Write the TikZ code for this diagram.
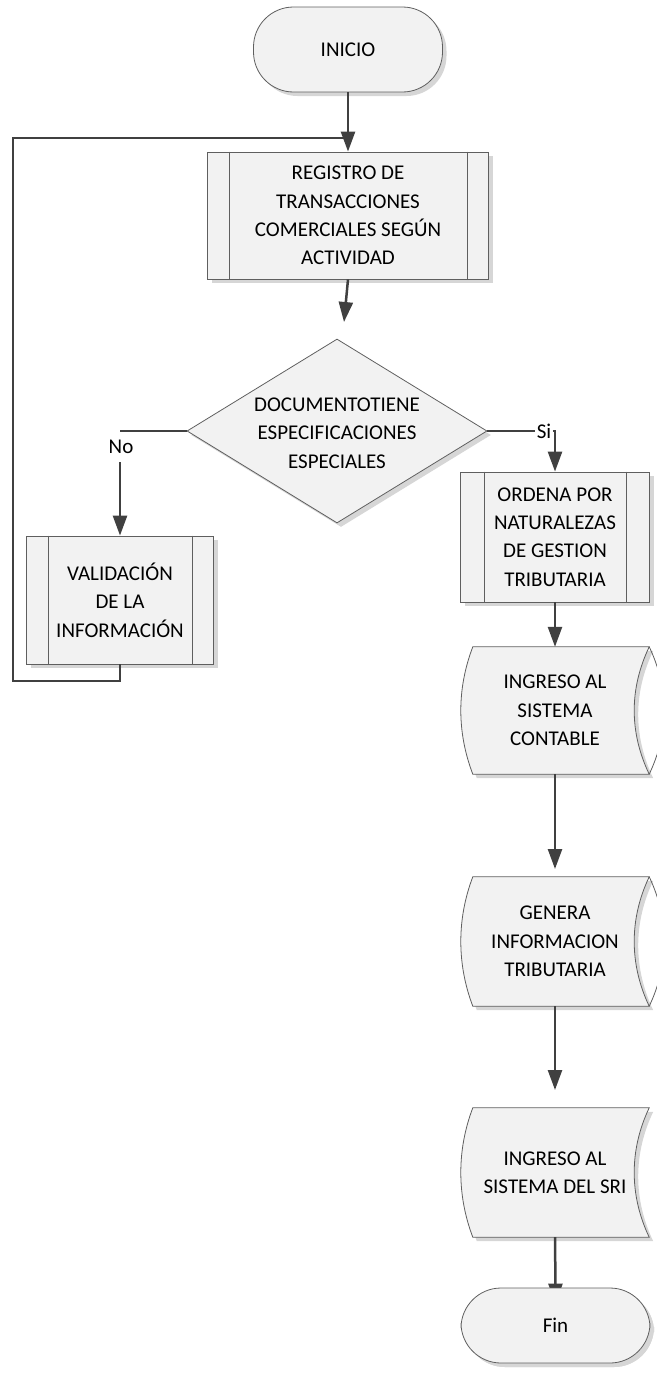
\documentclass[tikz,border=0pt]{standalone}
\usepackage{fontspec}
\setmainfont{Carlito}
\usetikzlibrary{arrows.meta,shapes.geometric,calc,shadows,backgrounds}

\definecolor{boxfill}{RGB}{242,242,242}
\definecolor{edgec}{RGB}{95,95,95}
\definecolor{linec}{RGB}{64,64,64}
\definecolor{shadec}{RGB}{214,214,214}

\newcommand\diagfont{\fontsize{21}{28.4}\selectfont}

\tikzset{
  shade4/.style={drop shadow={shadow xshift=4pt, shadow yshift=-4pt, fill=shadec, opacity=1}},
  boxbase/.style={draw=edgec, line width=0.8pt, fill=boxfill, text=black,
    align=center, font=\diagfont, inner sep=0pt, shade4},
  terminal/.style={boxbase, rectangle, rounded corners=40pt,
    minimum width=189pt, minimum height=#1},
  procbox/.style={boxbase, rectangle},
  txtbox/.style={rectangle, inner sep=0pt, align=center, font=\diagfont, text=black},
  decshape/.style={diamond, draw=edgec, line width=0.8pt, fill=boxfill, inner sep=0pt,
    minimum width=300pt, minimum height=184pt, shade4},
  stdshape/.style={draw=edgec, line width=0.8pt, fill=boxfill, shade4},
  capline/.style={draw=edgec, line width=0.8pt},
  innerline/.style={draw=edgec, line width=0.8pt},
  lbl/.style={rectangle, inner sep=1.5pt, font=\diagfont, text=black},
  arr/.style={draw=linec, line width=2.5pt, -{Triangle[length=20pt,width=14pt]}},
  branch/.style={draw=linec, line width=1.6pt},
  backline/.style={draw=linec, line width=1.2pt},
}

% inner edge lines of a predefined-process box
\newcommand\sidebars[2]{%
  \draw[innerline] ($(#1.north west)+(#2,0)$) -- ($(#1.south west)+(#2,0)$);
  \draw[innerline] ($(#1.north east)+(-#2,0)$) -- ($(#1.south east)+(-#2,0)$);
}
% stored-data outline around a text node: convex left side, concave right side
\newcommand\storedoutline[1]{%
  \draw[stdshape] ($(#1.north west)+(12,0)$) -- (#1.north east)
    .. controls ($(#1.north east)+(-20,42)$) and ($(#1.south east)+(-20,-42)$) .. (#1.south east)
    -- ($(#1.south west)+(12,0)$)
    .. controls ($(#1.south west)+(-4,-42)$) and ($(#1.north west)+(-4,42)$) .. cycle;
}
% outer cap arc on the right of a storage drum
\newcommand\drumcap[1]{%
  \draw[capline] (#1.north east)
    .. controls ($(#1.north east)+(20,42)$) and ($(#1.south east)+(20,-42)$) .. (#1.south east);
}

\begin{document}
\begin{tikzpicture}[x=1pt, y=-1pt]
  \useasboundingbox (0,0) rectangle (656,1373);

  % --- main column ---
  \node[terminal=85pt] (ini) at (348,49.5) {INICIO};

  \node[procbox, minimum width=281pt, minimum height=127pt] (reg) at (348,215.5)
    {REGISTRO DE\\TRANSACCIONES\\COMERCIALES SEGÚN\\ACTIVIDAD};
  \sidebars{reg}{22}

  \node[decshape] (dec) at (337,431) {};
  \node[txtbox] (dectxt) at (337,433) {DOCUMENTOTIENE\\ESPECIFICACIONES\\ESPECIALES};

  \node[procbox, minimum width=187pt, minimum height=128pt] (val) at (120,600)
    {VALIDACIÓN\\DE LA\\INFORMACIÓN};
  \sidebars{val}{22}

  \node[procbox, minimum width=189pt, minimum height=130pt] (ord) at (555,537)
    {ORDENA POR\\NATURALEZAS\\DE GESTION\\TRIBUTARIA};
  \sidebars{ord}{24}

  % --- storage shapes (outlines behind their texts) ---
  \node[txtbox, minimum width=188pt, minimum height=127pt] (cont) at (555,710.5)
    {INGRESO AL\\SISTEMA\\CONTABLE};
  \node[txtbox, minimum width=188pt, minimum height=129pt] (gen) at (555,941.5)
    {GENERA\\INFORMACION\\TRIBUTARIA};
  \node[txtbox, minimum width=188pt, minimum height=129pt] (sri) at (555,1172.5)
    {INGRESO AL\\SISTEMA DEL SRI};

  \begin{scope}[on background layer]
    \storedoutline{cont}
    \drumcap{cont}
    \storedoutline{gen}
    \drumcap{gen}
    \storedoutline{sri}
    % last link runs under the end terminal
    \node[terminal=75pt, draw=none, fill=none, drop shadow={opacity=0}] (finpos) at (555.5,1325.5) {};
    \draw[arr, shorten >=-16pt] (sri.south) -- (finpos.north);
  \end{scope}

  \node[terminal=75pt] (fin) at (555.5,1325.5) {Fin};

  % --- connectors ---
  \draw[arr] (ini.south) -- (reg.north);

  \coordinate (decin) at (344,322);
  \draw[arr] (reg.south) -- (decin);

  % "No" branch
  \coordinate (nocorner) at (120,431);
  \draw[branch] (dec.west) -- (nocorner);
  \node[lbl] (no) at (121,447) {No};
  \coordinate (nostart) at (120,462);
  \draw[arr] (nostart) -- (val.north);

  % "Si" branch
  \node[lbl] (si) at (544,431) {Si};
  \draw[branch] (dec.east) -- (si.west);
  \draw[arr] (si.east) -| (ord.north);

  % return line to the top
  \coordinate (loopbot) at (120,681);
  \coordinate (loopleft) at (13,681);
  \coordinate (looptop) at (13,138);
  \coordinate (loopjoin) at (348,138);
  \draw[backline] (val.south) -- (loopbot) -- (loopleft) -- (looptop) -- (loopjoin);

  % storage chain
  \draw[arr] (ord.south) -- (cont.north);
  \coordinate (genin) at (555,869);
  \draw[arr] (cont.south) -- (genin);
  \coordinate (sriin) at (555,1090);
  \draw[arr] (gen.south) -- (sriin);
\end{tikzpicture}
\end{document}
